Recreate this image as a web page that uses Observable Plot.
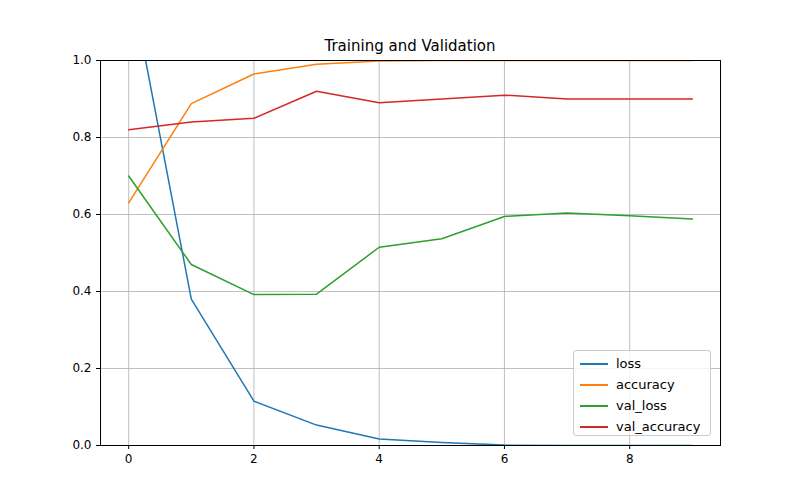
<!DOCTYPE html>
<html><head><meta charset="utf-8">
<script src="https://cdn.jsdelivr.net/npm/d3@7"></script>
<script src="https://cdn.jsdelivr.net/npm/@observablehq/plot@0.6"></script>
<style>
body{margin:0;font-family:"DejaVu Sans",sans-serif;}
#wrap{position:relative;width:800px;height:500px;}
#title{position:absolute;top:37px;left:100px;width:620px;text-align:center;font-size:15px;}
#legend{position:absolute;left:573px;top:350px;width:138px;height:86px;border:1px solid #ccc;border-radius:3px;background:rgba(255,255,255,0.8);font-size:13px;padding:2px 0 0 0;box-sizing:border-box}
.li{display:flex;align-items:center;height:21px;padding-left:6px}
.sw{width:28px;height:2px;margin-right:8px}
</style></head><body>
<div id="wrap"><div id="title">Training and Validation</div></div>
<script>
const epochs=[0,1,2,3,4,5,6,7,8,9];
const loss=[1.23,0.38,0.115,0.053,0.017,0.008,0.001,0.0,0.0,0.0];
const accuracy=[0.63,0.888,0.965,0.99,0.999,1.0,1.0,1.0,1.0,1.0];
const val_loss=[0.70,0.47,0.392,0.393,0.515,0.537,0.595,0.604,0.597,0.588];
const val_accuracy=[0.82,0.84,0.85,0.92,0.89,0.90,0.91,0.90,0.90,0.90];
const names=["loss","accuracy","val_loss","val_accuracy"];
const colors=["#1f77b4","#ff7f0e","#2ca02c","#d62728"];
const series=[loss,accuracy,val_loss,val_accuracy];
const data=[];
series.forEach((s,i)=>s.forEach((v,j)=>data.push({epoch:epochs[j],value:v,name:names[i]})));
const chart=Plot.plot({
  width:800,height:500,marginLeft:100,marginRight:80,marginTop:60,marginBottom:55,
  style:{fontFamily:"DejaVu Sans",fontSize:"12px",overflow:"visible"},
  x:{domain:[-0.45,9.45],ticks:[0,2,4,6,8],tickFormat:d=>d,label:null,tickSize:4},
  y:{domain:[0,1],ticks:[0,0.2,0.4,0.6,0.8,1.0],tickFormat:d3.format(".1f"),label:null,tickSize:4},
  color:{domain:names,range:colors},
  marks:[
    Plot.gridX([0,2,4,6,8],{stroke:"#b0b0b0",strokeOpacity:1,strokeWidth:0.8}),
    Plot.gridY([0,0.2,0.4,0.6,0.8,1.0],{stroke:"#b0b0b0",strokeOpacity:1,strokeWidth:0.8}),
    Plot.line(data,{x:"epoch",y:"value",z:"name",stroke:"name",strokeWidth:1.5,clip:true}),
    Plot.frame({stroke:"black"}),
    Plot.axisX({ticks:[0,2,4,6,8],tickFormat:d=>d,label:null,tickSize:4,fontSize:12}),
    Plot.axisY({ticks:[0,0.2,0.4,0.6,0.8,1.0],tickFormat:d3.format(".1f"),label:null,tickSize:4,fontSize:12})
  ]
});
chart.style.position="absolute";chart.style.left="0";chart.style.top="0";
const wrap=document.getElementById("wrap");
wrap.appendChild(chart);
const lg=document.createElement("div");lg.id="legend";
names.forEach((n,i)=>{const r=document.createElement("div");r.className="li";
r.innerHTML=`<div class="sw" style="background:${colors[i]}"></div><span>${n}</span>`;lg.appendChild(r);});
wrap.appendChild(lg);
</script></body></html>
